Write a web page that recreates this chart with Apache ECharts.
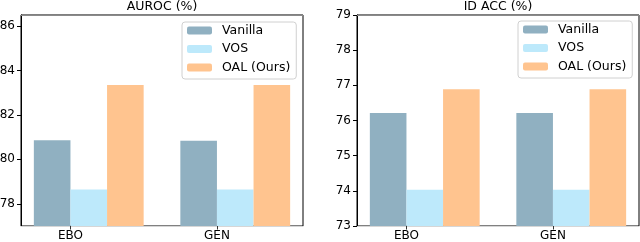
<!DOCTYPE html>
<html>
<head>
<meta charset="utf-8">
<script src="https://cdn.jsdelivr.net/npm/echarts@6/dist/echarts.min.js"></script>
<style>html,body{margin:0;padding:0;background:#fff}#c{width:640px;height:242px}</style>
</head>
<body>
<div id="c"></div>
<script>
const categories = ['EBO', 'GEN'];
const seriesNames = ['Vanilla', 'VOS', 'OAL (Ours)'];
const aurocVanilla = [80.86, 80.84];
const aurocVOS = [78.64, 78.64];
const aurocOAL = [83.35, 83.35];
const accVanilla = [76.21, 76.21];
const accVOS = [74.03, 74.03];
const accOAL = [76.89, 76.89];
const aurocTicks = [78, 80, 82, 84, 86];
const accTicks = [73, 74, 75, 76, 77, 78, 79];
const titles = ['AUROC (%)', 'ID ACC (%)'];

const colors = ['#90b0c1', '#bde9fb', '#ffc48f'];
const FONT = 'DejaVu Sans';
const xMin = -0.3375, xMax = 1.5875, barW = 36.6, half = 0.125;

const chart = echarts.init(document.getElementById('c'), null, {renderer: 'canvas'});

function xAxes(gi) {
  return [{
    gridIndex: gi, type: 'value', min: xMin, max: xMax,
    splitLine: {show: false},
    axisLine: {show: true, onZero: false, lineStyle: {color: '#d6d6d6', width: 1}},
    axisTick: {show: true, customValues: [0, 1], length: 3.5, lineStyle: {color: '#333'}},
    axisLabel: {customValues: [0, 1], margin: 4, color: '#000', fontFamily: FONT, fontSize: 12,
      formatter: v => categories[Math.round(v)]}
  }, {
    gridIndex: gi, type: 'value', position: 'top', min: 0, max: 1,
    splitLine: {show: false}, axisTick: {show: false}, axisLabel: {show: false},
    axisLine: {show: true, onZero: false, lineStyle: {color: '#8a8a8a', width: 1}}
  }];
}
function yAxis(gi, min, max, ticks) {
  return {
    gridIndex: gi, type: 'value', min: min, max: max,
    splitLine: {show: false},
    axisLine: {show: true, onZero: false, lineStyle: {color: '#000'}},
    axisTick: {show: true, customValues: ticks, length: 4, lineStyle: {color: '#000'}},
    axisLabel: {customValues: ticks, margin: 6, color: '#000', fontFamily: FONT, fontSize: 12}
  };
}
function bars(gi, name, vals, ci) {
  return {
    type: 'bar', name: name, xAxisIndex: gi * 2, yAxisIndex: gi,
    data: vals.map((v, i) => [i + half, v]),
    barWidth: barW, barGap: '0%',
    itemStyle: {color: colors[ci]}
  };
}
function legend(gi, left) {
  return {
    data: seriesNames.map(n => ({name: n})),
    orient: 'vertical', left: left, top: gi === 0 ? 22 : 21,
    itemWidth: 25, itemHeight: 8, itemGap: 5.5,
    padding: [2, 6, 5, 5],
    borderColor: '#d0d0d0', borderWidth: 1, borderRadius: 3,
    backgroundColor: 'rgba(255,255,255,0.8)',
    textStyle: {fontFamily: FONT, fontSize: 12.5, color: '#000', padding: [0, 0, 0, 5]},
    selectedMode: false
  };
}

chart.setOption({
  animation: false,
  title: titles.map((t, i) => ({
    text: t, left: i === 0 ? 162 : 498, top: 0, padding: 0, textAlign: 'center',
    textStyle: {fontFamily: FONT, fontSize: 12.5, fontWeight: 'normal', color: '#000'}
  })),
  grid: [
    {left: 21, top: 15, width: 282, height: 211, outerBoundsMode: 'none', containLabel: false, show: true, borderColor: '#000', borderWidth: 1, backgroundColor: 'transparent'},
    {left: 357, top: 15, width: 282, height: 211, outerBoundsMode: 'none', containLabel: false, show: true, borderColor: '#000', borderWidth: 1, backgroundColor: 'transparent'}
  ],
  xAxis: [...xAxes(0), ...xAxes(1)],
  yAxis: [yAxis(0, 77, 86.5, aurocTicks), yAxis(1, 73, 79, accTicks)],
  legend: [legend(0, 182), legend(1, 518)],
  series: [
    bars(0, seriesNames[0], aurocVanilla, 0),
    bars(0, seriesNames[1], aurocVOS, 1),
    bars(0, seriesNames[2], aurocOAL, 2),
    bars(1, seriesNames[0], accVanilla, 0),
    bars(1, seriesNames[1], accVOS, 1),
    bars(1, seriesNames[2], accOAL, 2)
  ]
});
</script>
</body>
</html>
